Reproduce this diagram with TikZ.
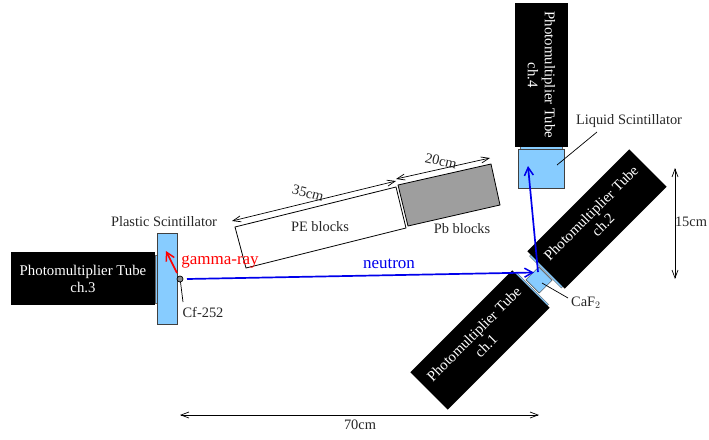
\documentclass[tikz,border=0pt]{standalone}
\usepackage{fontspec}
\setmainfont{Liberation Serif}
\usetikzlibrary{arrows.meta,calc}
\definecolor{scintblue}{RGB}{135,204,255}
\definecolor{leadgray}{RGB}{158,158,158}
\definecolor{rayblue}{RGB}{0,0,235}
\tikzset{
  tube/.style={fill=black,text=white,align=center,minimum width=144pt,minimum height=53pt,inner sep=0pt,font=\fontsize{14.8}{17}\selectfont},
  scint/.style={fill=scintblue,draw=black!75,line width=0.8pt,inner sep=0pt},
  window/.style={fill=scintblue,draw=black!60,line width=0.4pt,inner sep=0pt},
  lbl/.style={font=\fontsize{14.4}{16}\selectfont,inner sep=0pt,text=black!85},
  raylbl/.style={font=\fontsize{17}{19}\selectfont,inner sep=0pt},
  block/.style={draw=black,line width=0.8pt},
  dim/.style={draw=black,line width=0.7pt,{Straight Barb[length=8pt,width=6pt]}-{Straight Barb[length=8pt,width=6pt]}},
  leader/.style={draw=black,line width=0.7pt},
  ray/.style={line width=1.7pt,-{Straight Barb[length=8pt,width=9pt,line width=1.5pt]}}
}
\begin{document}
\begin{tikzpicture}[x=1pt,y=-1pt]
\useasboundingbox (0,0) rectangle (709,439);
% windows
\node[window,minimum width=2.5pt,minimum height=48pt] (w3) at (156,279) {};
\node[window,minimum width=42pt,minimum height=3pt] (w4) at (541,148) {};
\node[window,rotate=45,minimum width=3pt,minimum height=45pt] (w1) at (531.5,289.5) {};
\node[window,rotate=45,minimum width=3pt,minimum height=45pt] (w2) at (546.5,271) {};
% tubes
\node[tube] (t3) at (83,278.5) {Photomultiplier Tube\\ch.3};
\node[tube,rotate=-90] (t4) at (541.5,75) {Photomultiplier Tube\\ch.4};
\node[tube,rotate=45] (t2) at (597,219) {Photomultiplier Tube\\ch.2};
\node[tube,rotate=45] (t1) at (480,340) {Photomultiplier Tube\\ch.1};
% scintillators
\node[scint,minimum width=20pt,minimum height=91pt] (ps) at (167,278.5) {};
\node[scint,minimum width=46pt,minimum height=39pt] (ls) at (541,168.5) {};
\node[scint,line width=0.4pt,rotate=45,minimum width=18pt,minimum height=19pt] (caf) at (539,280) {};
% blocks
\coordinate (pe1) at (235,227);
\coordinate (pe2) at (396,187);
\coordinate (pe3) at (406,228);
\coordinate (pe4) at (246,268);
\draw[block] (pe1) -- (pe2) -- (pe3) -- (pe4) -- cycle;
\coordinate (pb1) at (398,185);
\coordinate (pb2) at (491,164);
\coordinate (pb3) at (500,205);
\coordinate (pb4) at (408,226);
\draw[block,fill=leadgray] (pb1) -- (pb2) -- (pb3) -- (pb4) -- cycle;
% source
\node[circle,draw=black,line width=0.7pt,fill=black!45,minimum size=6pt,inner sep=0pt] (cf) at (180,279) {};
% labels
\node[lbl] (lps) at (164,222) {Plastic Scintillator};
\node[lbl] (lcf) at (203,312) {Cf-252};
\node[lbl] (lls) at (629,121) {Liquid Scintillator};
\node[lbl,anchor=west] (lca) at (571,303) {CaF$_2$};
\node[lbl] (lpe) at (320,227) {PE blocks};
\node[lbl] (lpb) at (462,229) {Pb blocks};
\node[lbl,rotate=-15] (l35) at (308,193) {35cm};
\node[lbl,rotate=-13] (l20) at (441,161) {20cm};
\node[lbl] (l15) at (691,222) {15cm};
\node[lbl] (l70) at (360,425) {70cm};
\node[raylbl,text=red] (lg) at (220,262) {gamma-ray};
\node[raylbl,text=rayblue] (ln) at (389,264) {neutron};
% leaders
\coordinate (cfa) at (180.5,282);
\coordinate (cfb) at (183,302);
\draw[leader] (cfa) -- (cfb);
\coordinate (lsa) at (557,165);
\coordinate (lsb) at (597,132);
\draw[leader] (lsa) -- (lsb);
\coordinate (caa) at (542,283);
\coordinate (cab) at (568,298);
\draw[leader] (caa) -- (cab);
% dimensions
\coordinate (d35a) at (232,221);
\coordinate (d35b) at (396,181);
\draw[dim] (d35a) -- (d35b);
\coordinate (d20a) at (396,179);
\coordinate (d20b) at (490,158);
\draw[dim] (d20a) -- (d20b);
\coordinate (d15a) at (675,168);
\coordinate (d15b) at (675,279);
\draw[dim] (d15a) -- (d15b);
\coordinate (d70a) at (180,415);
\coordinate (d70b) at (539,415);
\draw[dim] (d70a) -- (d70b);
% rays
\coordinate (gs) at (177,273);
\coordinate (ge) at (166,251);
\draw[ray,red] (gs) -- (ge);
\coordinate (ns) at (187,279);
\coordinate (ne) at (534,272.5);
\draw[ray,rayblue] (ns) -- (ne);
\coordinate (rs) at (538,272);
\coordinate (re) at (528,166);
\draw[ray,rayblue] (rs) -- (re);
\end{tikzpicture}
\end{document}
